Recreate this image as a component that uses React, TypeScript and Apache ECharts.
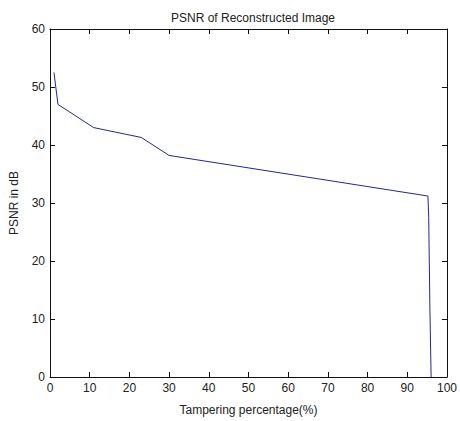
import React, { useEffect, useRef } from "react";
import * as echarts from "echarts";

const tamperingPct = [1, 2, 11, 23, 30, 95.2, 95.4, 95.7, 96];
const psnrDb = [52.5, 47, 43, 41.3, 38.2, 31.2, 27.5, 11.7, 0];
const xTicks = { min: 0, max: 100, interval: 10 };
const yTicks = { min: 0, max: 60, interval: 10 };

const FONT = "'Liberation Sans', Arial, sans-serif";

export default function App() {
  const ref = useRef<HTMLDivElement>(null);
  useEffect(() => {
    if (!ref.current) return;
    const chart = echarts.init(ref.current, undefined, { renderer: "svg" });
    const axisLine = { show: true, onZero: false, lineStyle: { color: "#111", width: 1 } };
    const axisTick = { show: true, inside: true, length: 5, lineStyle: { color: "#111" } };
    const label = { color: "#222", fontSize: 12, fontFamily: FONT };
    chart.setOption({
      animation: false,
      backgroundColor: "#fff",
      title: {
        text: "PSNR of Reconstructed Image",
        left: 248,
        textAlign: "center",
        top: 7,
        textStyle: { fontSize: 12, fontWeight: "normal", color: "#222", fontFamily: FONT },
      },
      grid: { left: 48, right: 9, top: 29, bottom: 39, containLabel: false },
      xAxis: [
        {
          type: "value",
          ...xTicks,
          position: "bottom",
          name: "Tampering percentage(%)",
          nameLocation: "middle",
          nameGap: 27,
          nameTextStyle: { ...label },
          axisLine,
          axisTick,
          axisLabel: { ...label, margin: 5 },
          splitLine: { show: false },
        },
        {
          type: "value",
          ...xTicks,
          position: "top",
          axisLine,
          axisTick,
          axisLabel: { show: false },
          splitLine: { show: false },
        },
      ],
      yAxis: [
        {
          type: "value",
          ...yTicks,
          position: "left",
          name: "PSNR in dB",
          nameLocation: "middle",
          nameGap: 30,
          nameTextStyle: { ...label },
          axisLine,
          axisTick,
          axisLabel: { ...label, margin: 5 },
          splitLine: { show: false },
        },
        {
          type: "value",
          ...yTicks,
          position: "right",
          axisLine,
          axisTick,
          axisLabel: { show: false },
          splitLine: { show: false },
        },
      ],
      series: [
        {
          type: "line",
          data: tamperingPct.map((x, i) => [x, psnrDb[i]]),
          showSymbol: false,
          lineStyle: { color: "#26268f", width: 1 },
          silent: true,
        },
      ],
    });
    return () => chart.dispose();
  }, []);
  return (
    <div
      ref={ref}
      style={{ position: "fixed", left: 0, top: 0, width: 460, height: 421 }}
    />
  );
}
